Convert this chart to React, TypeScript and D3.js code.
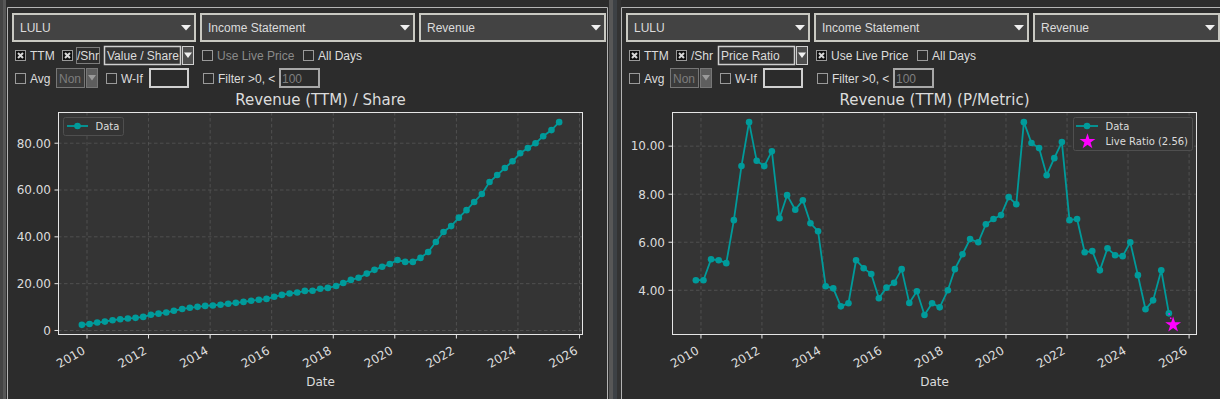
import * as d3 from 'd3';

// LULU fiscal quarter ends
const quarterEnds = [
  '2009-11-01',
  '2010-01-31', '2010-05-02', '2010-08-01', '2010-10-31',
  '2011-01-30', '2011-05-01', '2011-07-31', '2011-10-30',
  '2012-01-29', '2012-04-29', '2012-07-29', '2012-10-28',
  '2013-02-03', '2013-05-05', '2013-08-04', '2013-11-03',
  '2014-02-02', '2014-05-04', '2014-08-03', '2014-11-02',
  '2015-02-01', '2015-05-03', '2015-08-02', '2015-11-01',
  '2016-01-31', '2016-05-01', '2016-07-31', '2016-10-30',
  '2017-01-29', '2017-04-30', '2017-07-30', '2017-10-29',
  '2018-02-04', '2018-04-29', '2018-07-29', '2018-10-28',
  '2019-02-03', '2019-05-05', '2019-08-04', '2019-11-03',
  '2020-02-02', '2020-05-03', '2020-08-02', '2020-11-01',
  '2021-01-31', '2021-05-02', '2021-08-01', '2021-10-31',
  '2022-01-30', '2022-05-01', '2022-07-31', '2022-10-30',
  '2023-01-29', '2023-04-30', '2023-07-30', '2023-10-29',
  '2024-01-28', '2024-04-28', '2024-07-28', '2024-10-27',
  '2025-02-02', '2025-05-04',
];

const revenuePerShare = [
  2.4, 2.8, 3.4, 3.8, 4.4, 4.8, 5.1, 5.4, 5.8, 6.7,
  7.2, 7.7, 8.4, 9.2, 9.7, 10.1, 10.5, 10.7, 11.0, 11.4,
  11.8, 12.2, 12.7, 13.1, 13.5, 14.4, 15.2, 15.8, 16.2, 16.9,
  17.0, 17.8, 18.2, 19.0, 20.3, 21.6, 22.5, 24.3, 25.9, 27.2,
  28.4, 30.1, 29.3, 29.3, 31.0, 33.5, 37.8, 42.1, 44.6, 48.2,
  51.4, 54.9, 58.3, 63.4, 66.4, 69.4, 72.3, 75.7, 77.9, 80.0,
  83.0, 85.6, 89.0,
];

const priceRatio = [
  4.42, 4.42, 5.29, 5.25, 5.13, 6.92, 9.17, 11.0, 9.39, 9.17,
  9.79, 7.0, 7.96, 7.35, 7.75, 6.79, 6.46, 4.17, 4.08, 3.33,
  3.46, 5.25, 4.92, 4.68, 3.67, 4.11, 4.31, 4.88, 3.47, 3.96,
  2.97, 3.46, 3.29, 4.0, 4.88, 5.5, 6.13, 6.0, 6.75, 6.97,
  7.13, 7.88, 7.58, 11.0, 10.13, 9.92, 8.79, 9.5, 10.17, 6.92,
  6.97, 5.58, 5.63, 4.83, 5.75, 5.46, 5.42, 6.0, 4.63, 3.21,
  3.58, 4.83, 3.04,
];

const liveDate = '2025-06-24';
const liveRatio = 2.56;

const dropdownLabels = ['LULU', 'Income Statement', 'Revenue'];

const PLOT = { left: 58, right: 583, top: 112, bottom: 335 };
const PANEL_DX = 614;
const TEAL = '#009b9b';
const FG = '#dcdcdc';
const UI_FONT = '"Liberation Sans", Arial, sans-serif';
const PLOT_FONT = '"DejaVu Sans", sans-serif';

type Pt = { date: Date; value: number };

const parse = d3.timeParse('%Y-%m-%d');

const fmtY = (v: number) => (v === 0 ? '0' : d3.format('.2f')(v));

const CheckBox = ({ x, y, checked, label, disabled }: { x: number; y: number; checked?: boolean; label: string; disabled?: boolean }) => (
  <g>
    <rect x={x + 0.5} y={y + 0.5} width={10} height={10} fill={checked ? '#101010' : '#2b2b2b'} stroke="#9a9a9a" />
    {checked && (
      <path d={`M${x + 3},${y + 3}L${x + 8},${y + 8}M${x + 8},${y + 3}L${x + 3},${y + 8}`} stroke="#d8d8d8" strokeWidth={2} />
    )}
    <text x={x + 15} y={y + 9.5} fontSize={12} fill={disabled ? '#8a8a8a' : FG} fontFamily={UI_FONT}>
      {label}
    </text>
  </g>
);

const Dropdown = ({ x0, x1, label }: { x0: number; x1: number; label: string }) => {
  const cx = x1 - 10;
  return (
    <g>
      <rect x={x0 + 1} y={14} width={x1 - x0 - 2} height={27} fill="#434343" stroke="#c9c9c2" strokeWidth={2} />
      <text x={x0 + 8} y={32} fontSize={12} fill={FG} fontFamily={UI_FONT}>{label}</text>
      <path d={`M${cx - 5},${25}L${cx + 5},${25}L${cx},${30.5}Z`} fill="#f0f0f0" />
    </g>
  );
};

const Combo = ({ x0, x1, y0, y1, label, disabled }: { x0: number; x1: number; y0: number; y1: number; label: string; disabled?: boolean }) => {
  const bx = x1 + 1;
  const bw = 12;
  const cy = (y0 + y1) / 2;
  return (
    <g>
      <rect x={x0 + 0.5} y={y0 + 0.5} width={x1 - x0 - 1} height={y1 - y0 - 1} fill={disabled ? '#3a3a3a' : '#333333'} stroke={disabled ? '#777' : '#cfcfcf'} strokeWidth={disabled ? 1 : 1.5} />
      <text x={x0 + 3} y={cy + 4.5} fontSize={12} fill={disabled ? '#7d7d7d' : FG} fontFamily={UI_FONT}>{label}</text>
      <rect x={bx + 0.5} y={y0 + 0.5} width={bw - 1} height={y1 - y0 - 1} fill={disabled ? '#5e5e5e' : '#4e4e4e'} stroke={disabled ? '#777' : '#cfcfcf'} />
      <path d={`M${bx + 2},${cy - 3}L${bx + bw - 2},${cy - 3}L${bx + bw / 2},${cy + 2.5}Z`} fill={disabled ? '#9a9a9a' : '#f0f0f0'} />
    </g>
  );
};

const Input = ({ x0, x1, text, dim }: { x0: number; x1: number; text?: string; dim?: boolean }) => (
  <g>
    <rect x={x0 + 1} y={69} width={x1 - x0 - 2} height={18} fill="#2b2b2b" stroke={dim ? '#a8a8a8' : '#d0d0d0'} strokeWidth={2} />
    {text && (
      <text x={x0 + 3} y={82.5} fontSize={12} fill="#7f7f7f" fontFamily={UI_FONT}>{text}</text>
    )}
  </g>
);

type ChartProps = {
  title: string;
  data: Pt[];
  live?: Pt;
};

const Chart = ({ title, data, live }: ChartProps) => {
  const allDates = data.map((d) => d.date.getTime()).concat(live ? [live.date.getTime()] : []);
  const allVals = data.map((d) => d.value).concat(live ? [live.value] : []);
  const [t0, t1] = d3.extent(allDates) as [number, number];
  const [v0, v1] = d3.extent(allVals) as [number, number];
  const tp = (t1 - t0) * 0.05;
  const vp = (v1 - v0) * 0.05;

  const xScale = d3.scaleTime().domain([new Date(t0 - tp), new Date(t1 + tp)]).range([PLOT.left, PLOT.right]);
  const yScale = d3.scaleLinear().domain([v0 - vp, v1 + vp]).range([PLOT.bottom, PLOT.top]);

  const xTicks = xScale.ticks(d3.timeYear.every(2)!);
  const yTicks = yScale.ticks(5);

  const linePath = d3.line<Pt>().x((d) => xScale(d.date)).y((d) => yScale(d.value))(data) || '';
  const star = d3.symbol().type(d3.symbolStar).size(78)() || '';
  const last = data[data.length - 1];
  const cx = (PLOT.left + PLOT.right) / 2;

  return (
    <g fontFamily={PLOT_FONT}>
      <text x={cx} y={105} textAnchor="middle" fontSize={15} fill={FG}>{title}</text>
      <rect x={PLOT.left} y={PLOT.top} width={PLOT.right - PLOT.left} height={PLOT.bottom - PLOT.top} fill="#343434" />
      {xTicks.map((t) => (
        <line key={'gx' + t.getTime()} x1={xScale(t)} x2={xScale(t)} y1={PLOT.top} y2={PLOT.bottom} stroke="#575757" strokeWidth={0.8} strokeDasharray="3.5,2.5" />
      ))}
      {yTicks.map((v) => (
        <line key={'gy' + v} x1={PLOT.left} x2={PLOT.right} y1={yScale(v)} y2={yScale(v)} stroke="#575757" strokeWidth={0.8} strokeDasharray="3.5,2.5" />
      ))}
      <path d={linePath} fill="none" stroke={TEAL} strokeWidth={1.8} />
      {data.map((d, i) => (
        <circle key={i} cx={xScale(d.date)} cy={yScale(d.value)} r={3.3} fill={TEAL} />
      ))}
      {live && (
        <>
          <line x1={xScale(last.date)} y1={yScale(last.value)} x2={xScale(live.date)} y2={yScale(live.value)} stroke="#ff00ff" strokeWidth={1.5} strokeDasharray="1.5,3" />
          <path d={star} transform={`translate(${xScale(live.date)},${yScale(live.value)})`} fill="#ff00ff" />
        </>
      )}
      <rect x={PLOT.left + 0.5} y={PLOT.top + 0.5} width={PLOT.right - PLOT.left - 1} height={PLOT.bottom - PLOT.top - 1} fill="none" stroke="#e6e6e6" strokeWidth={1} />
      {xTicks.map((t) => (
        <g key={'tx' + t.getTime()}>
          <line x1={xScale(t)} x2={xScale(t)} y1={PLOT.bottom} y2={PLOT.bottom + 3.5} stroke="#e6e6e6" />
          <text transform={`translate(${xScale(t) - 1},${353}) rotate(-30)`} textAnchor="end" fontSize={12} fill={FG}>
            {d3.timeFormat('%Y')(t)}
          </text>
        </g>
      ))}
      {yTicks.map((v) => (
        <g key={'ty' + v}>
          <line x1={PLOT.left - 3.5} x2={PLOT.left} y1={yScale(v)} y2={yScale(v)} stroke="#e6e6e6" />
          <text x={PLOT.left - 7} y={yScale(v)} dy="0.36em" textAnchor="end" fontSize={12} fill={FG}>{fmtY(v)}</text>
        </g>
      ))}
      <text x={cx} y={386} textAnchor="middle" fontSize={12} fill={FG}>Date</text>
      {!live ? (
        <g>
          <rect x={63.5} y={117.5} width={60} height={18} rx={2} fill="#343434" stroke="#4f4f4f" />
          <line x1={67} x2={88} y1={126} y2={126} stroke={TEAL} strokeWidth={1.8} />
          <circle cx={77.5} cy={126} r={3.3} fill={TEAL} />
          <text x={95.5} y={129.5} fontSize={10} fill={FG}>Data</text>
        </g>
      ) : (
        <g>
          <rect x={459.5} y={117.5} width={119} height={33} rx={2} fill="#343434" stroke="#4f4f4f" />
          <line x1={462} x2={484} y1={126} y2={126} stroke={TEAL} strokeWidth={1.8} />
          <circle cx={473} cy={126} r={3.3} fill={TEAL} />
          <path d={star} transform="translate(473.5,141.5)" fill="#ff00ff" />
          <text x={491.5} y={129.5} fontSize={10} fill={FG}>Data</text>
          <text x={491.5} y={145} fontSize={10} fill={FG}>{`Live Ratio (${liveRatio.toFixed(2)})`}</text>
        </g>
      )}
    </g>
  );
};

type PanelProps = {
  dx: number;
  comboLabel: string;
  livePrice: boolean;
  focusShr: boolean;
  title: string;
  data: Pt[];
  live?: Pt;
};

const Panel = ({ dx, comboLabel, livePrice, focusShr, title, data, live }: PanelProps) => (
  <g transform={`translate(${dx},0)`}>
    <path d="M7.5,399V7.5H607.5V399" fill="none" stroke="#b4b4b4" />
    <Dropdown x0={12} x1={196} label={dropdownLabels[0]} />
    <Dropdown x0={200} x1={415} label={dropdownLabels[1]} />
    <Dropdown x0={419} x1={606} label={dropdownLabels[2]} />

    <CheckBox x={15} y={50} checked label="TTM" />
    <CheckBox x={62} y={50} checked label="/Shr" />
    {focusShr && <rect x={76.5} y={47.5} width={23} height={16} fill="none" stroke="#cfcfcf" strokeDasharray="1,1" />}
    <Combo x0={104} x1={181} y0={46} y1={65} label={comboLabel} />
    <CheckBox x={202} y={50} checked={livePrice} label="Use Live Price" disabled={!livePrice} />
    <CheckBox x={303} y={50} label="All Days" />

    <CheckBox x={15} y={73} label="Avg" />
    <Combo x0={56} x1={85} y0={68} y1={88} label="Non" disabled />
    <CheckBox x={106} y={73} label="W-If" />
    <Input x0={149} x1={189} />
    <CheckBox x={203} y={73} label="Filter >0, <" />
    <Input x0={279} x1={320} text="100" dim />

    <Chart title={title} data={data} live={live} />
  </g>
);

export default function App() {
  const dates = quarterEnds.map((s) => parse(s) as Date);
  const left: Pt[] = dates.map((date, i) => ({ date, value: revenuePerShare[i] }));
  const right: Pt[] = dates.map((date, i) => ({ date, value: priceRatio[i] }));
  const live: Pt = { date: parse(liveDate) as Date, value: liveRatio };

  return (
    <svg width={1220} height={399} style={{ position: 'absolute', left: 0, top: 0, display: 'block' }}>
      <rect width={1220} height={399} fill="#2c2c2c" />
      <rect x={0} y={0} width={3} height={399} fill="#444" />
      <rect x={3} y={0} width={3} height={399} fill="#575757" />
      <rect x={609} y={0} width={4} height={399} fill="#575757" />
      <rect x={613} y={0} width={4} height={399} fill="#3d4145" />
      <rect x={617} y={0} width={4} height={399} fill="#333" />
      <Panel dx={0} comboLabel="Value / Share" livePrice={false} focusShr title="Revenue (TTM) / Share" data={left} />
      <Panel dx={PANEL_DX} comboLabel="Price Ratio" livePrice focusShr={false} title="Revenue (TTM) (P/Metric)" data={right} live={live} />
    </svg>
  );
}
